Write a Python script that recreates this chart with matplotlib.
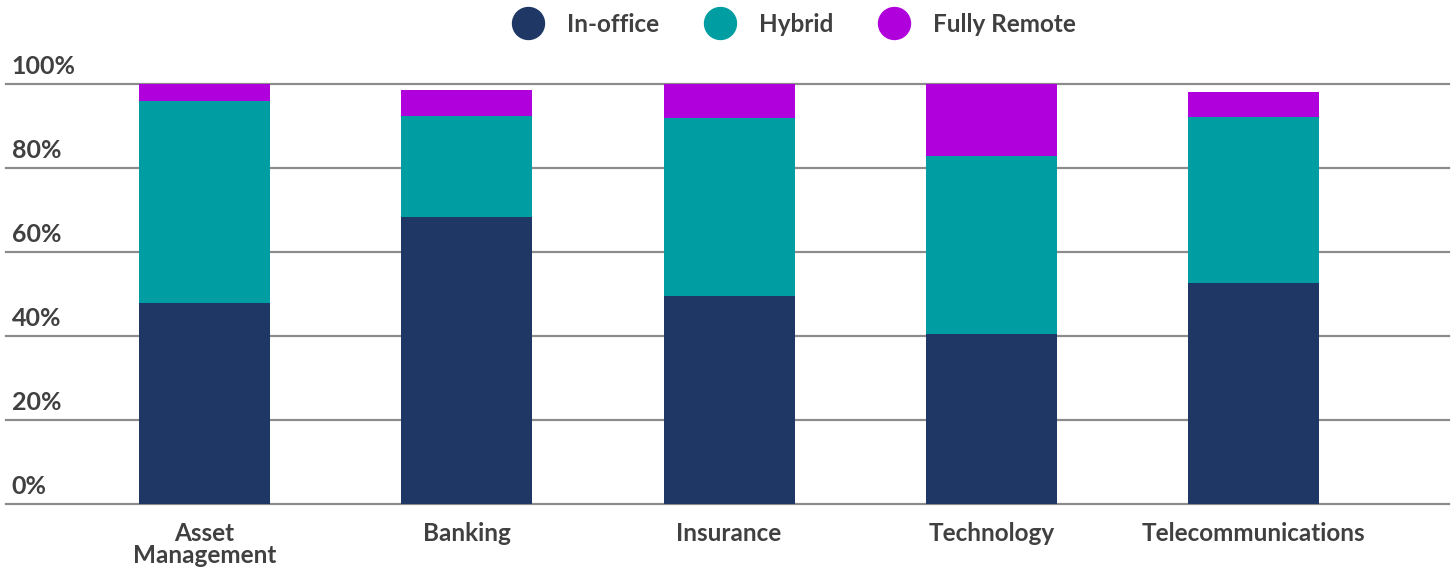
import matplotlib.pyplot as plt
from matplotlib.lines import Line2D
import numpy as np

categories = ['Asset\nManagement', 'Banking', 'Insurance', 'Technology', 'Telecommunications']
in_office = [47.9, 68.4, 49.5, 40.5, 52.6]
hybrid = [48.1, 24.1, 42.4, 42.4, 39.5]
fully_remote = [4.0, 6.1, 8.1, 17.1, 6.0]
yticks = [0, 20, 40, 60, 80, 100]

colors = ['#1e3765', '#009ea2', '#b000dc']
labels = ['In-office', 'Hybrid', 'Fully Remote']
text_color = '#404040'

plt.rcParams['font.family'] = ['Lato', 'DejaVu Sans']

fig = plt.figure(figsize=(14.53, 5.73), dpi=100)
ax = fig.add_axes([6 / 1453, 69 / 573, 1443 / 1453, 420 / 573])

x = np.arange(len(categories))
bottom = np.zeros(len(categories))
for vals, c in zip([in_office, hybrid, fully_remote], colors):
    ax.bar(x, vals, 0.5, bottom=bottom, color=c, zorder=3)
    bottom += np.array(vals)

for t in yticks:
    ax.axhline(t, color='#8c8c8c', lw=1.6, zorder=1, clip_on=False)
    ax.text(0.004, t + 1.5, f'{t}%', transform=ax.get_yaxis_transform(),
            ha='left', va='bottom', fontsize=18, color=text_color, fontweight='bold')

ax.set_xlim(-0.757, 4.745)
ax.set_ylim(0, 100)
ax.set_yticks([])
ax.set_xticks(x)
ax.set_xticklabels(categories, fontsize=17.5, color=text_color, fontweight='bold', linespacing=0.95)
ax.tick_params(axis='x', length=0, pad=13)
for s in ax.spines.values():
    s.set_visible(False)

handles = [Line2D([], [], marker='o', ls='', markersize=23, color=c) for c in colors]
leg = fig.legend(handles, labels, loc='center', bbox_to_anchor=(790 / 1453, 1 - 24 / 573),
                 ncol=3, frameon=False, fontsize=17.5, handletextpad=0.6, columnspacing=1.5)
for t in leg.get_texts():
    t.set_color(text_color)
    t.set_fontweight('bold')

fig.savefig('out.png', dpi=100)
